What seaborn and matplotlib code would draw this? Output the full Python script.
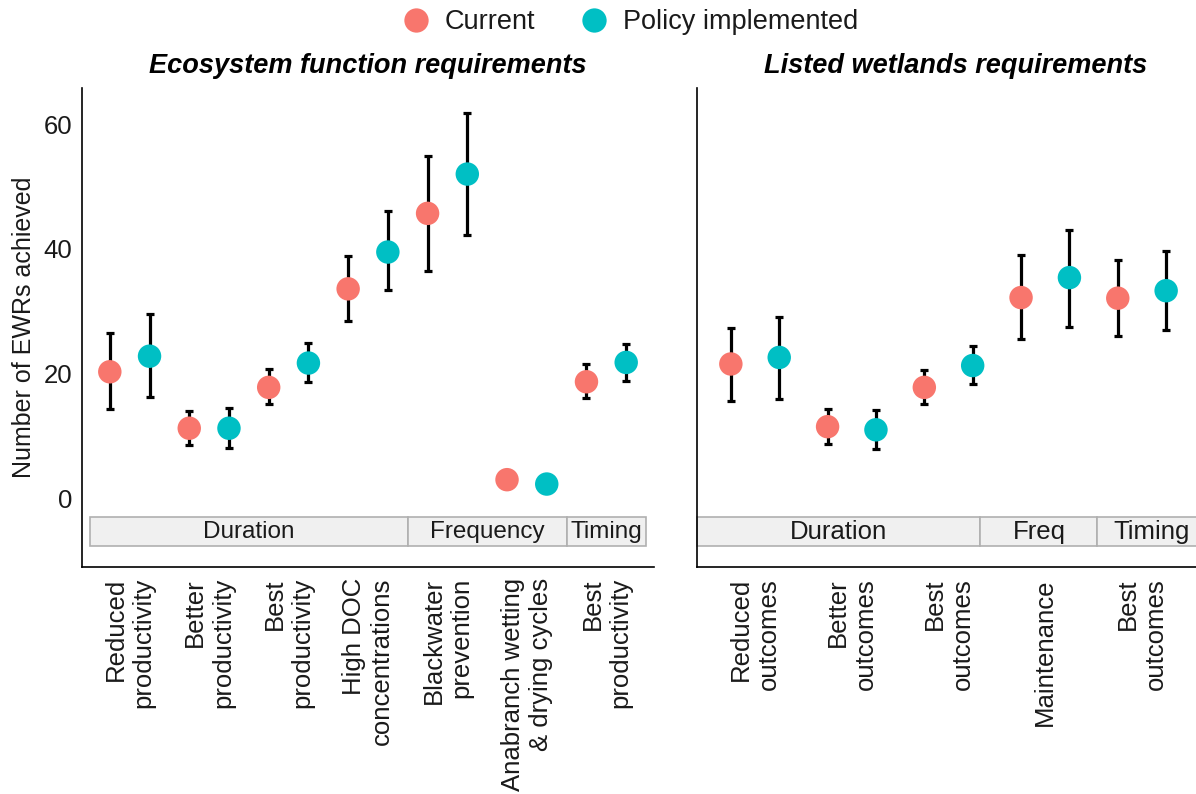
import numpy as np
import pandas as pd
import matplotlib
matplotlib.use("Agg")
import matplotlib.pyplot as plt
from matplotlib.patches import Rectangle
from matplotlib.lines import Line2D
import seaborn as sns

# ---- data -------------------------------------------------------------
scenarios = ["Current", "Policy implemented"]
colors = {"Current": "#F8766D", "Policy implemented": "#00BFC4"}

eco_labels = ["Reduced\nproductivity", "Better\nproductivity", "Best\nproductivity",
              "High DOC\nconcentrations", "Blackwater\nprevention",
              "Anabranch wetting\n& drying cycles", "Best\nproductivity"]
eco_cur_mean = [20.3, 11.25, 17.8, 33.6, 45.7, 3.0, 18.7]
eco_cur_low = [14.3, 8.6, 15.1, 28.4, 36.5, np.nan, 16.1]
eco_cur_high = [26.5, 14.0, 20.7, 38.8, 54.9, np.nan, 21.6]
eco_pol_mean = [22.8, 11.25, 21.7, 39.5, 52.0, 2.3, 21.8]
eco_pol_low = [16.2, 8.1, 18.6, 33.4, 42.2, np.nan, 18.9]
eco_pol_high = [29.5, 14.5, 24.9, 46.0, 61.8, np.nan, 24.8]

wet_labels = ["Reduced\noutcomes", "Better\noutcomes", "Best\noutcomes",
              "Maintenance", "Best\noutcomes"]
wet_cur_mean = [21.55, 11.5, 17.8, 32.2, 32.1]
wet_cur_low = [15.6, 8.7, 15.1, 25.6, 26.1]
wet_cur_high = [27.4, 14.3, 20.6, 39.1, 38.2]
wet_pol_mean = [22.6, 11.0, 21.3, 35.4, 33.3]
wet_pol_low = [15.9, 7.9, 18.3, 27.5, 27.0]
wet_pol_high = [29.1, 14.1, 24.5, 43.1, 39.6]

eco_groups = [("Duration", 0.5, 4.5), ("Frequency", 4.5, 6.5), ("Timing", 6.5, 7.5)]
wet_groups = [("Duration", 0.4, 3.33), ("Freq", 3.33, 4.54), ("Timing", 4.54, 5.65)]

y_ticks = [0, 20, 40, 60]


def build_frame(labels, cm, cl, ch, pm, pl, ph):
    rows = []
    for i in range(len(labels)):
        rows.append(dict(pos=i + 1, scenario="Current", mean=cm[i], low=cl[i], high=ch[i]))
        rows.append(dict(pos=i + 1, scenario="Policy implemented", mean=pm[i], low=pl[i], high=ph[i]))
    df = pd.DataFrame(rows)
    df["x"] = df["pos"] + np.where(df["scenario"] == "Current", -0.25, 0.25)
    return df


eco = build_frame(eco_labels, eco_cur_mean, eco_cur_low, eco_cur_high,
                  eco_pol_mean, eco_pol_low, eco_pol_high)
wet = build_frame(wet_labels, wet_cur_mean, wet_cur_low, wet_cur_high,
                  wet_pol_mean, wet_pol_low, wet_pol_high)

# ---- style ------------------------------------------------------------
sns.set_style("white")
plt.rcParams["font.family"] = ["Liberation Sans", "DejaVu Sans"]
text_col = "#1a1a1a"

W, H = 1196, 794
fig = plt.figure(figsize=(W / 100, H / 100), dpi=100)
ax1 = fig.add_axes([82 / W, 1 - 567 / H, 572 / W, 479 / H])
ax2 = fig.add_axes([697 / W, 1 - 567 / H, 503 / W, 479 / H])


def draw_panel(ax, df, labels, groups, title, title_x, strip_fs, show_ylabels):
    ok = df.dropna(subset=["low", "high"])
    ax.errorbar(ok["x"], ok["mean"],
                yerr=[ok["mean"] - ok["low"], ok["high"] - ok["mean"]],
                fmt="none", ecolor="black", elinewidth=2.3, capsize=3.2,
                capthick=2.3, zorder=2)
    sns.scatterplot(data=df, x="x", y="mean", hue="scenario", palette=colors,
                    hue_order=scenarios, s=285, linewidth=0, legend=False,
                    ax=ax, zorder=3)
    n = len(labels)
    ax.set_xlim(0.4, n + 0.6)
    ax.set_ylim(-11.0, 65.8)
    ax.set_xticks(range(1, n + 1))
    ax.set_xticklabels(labels, rotation=90, ha="center", va="top",
                       fontsize=18.5, color=text_col)
    for lab in ax.get_xticklabels():
        lab.set_multialignment("right")
    ax.set_yticks(y_ticks)
    if show_ylabels:
        ax.set_yticklabels([str(v) for v in y_ticks], fontsize=18.5, color=text_col)
    else:
        ax.set_yticklabels([])
    ax.tick_params(axis="x", length=5, width=1.0, color="#333333", pad=3)
    ax.tick_params(axis="y", length=5, width=1.0, color="#333333", pad=2)
    ax.set_xlabel("")
    ax.set_ylabel("")
    for side in ["top", "right"]:
        ax.spines[side].set_visible(False)
    for side in ["left", "bottom"]:
        ax.spines[side].set_color("black")
        ax.spines[side].set_linewidth(1.2)
    for name, x0, x1 in groups:
        ax.add_patch(Rectangle((x0, -7.7), x1 - x0, 4.65, facecolor="#F0F0F0",
                               edgecolor="#B0B0B0", linewidth=1.2, clip_on=False,
                               zorder=1))
        ax.text((x0 + x1) / 2, -5.35, name, ha="center", va="center",
                fontsize=strip_fs, color=text_col, zorder=4, clip_on=False)
    ax.set_title(title, fontsize=19.5, fontweight="bold", fontstyle="italic",
                 pad=11, x=title_x, color="black")


draw_panel(ax1, eco, eco_labels, eco_groups, "Ecosystem function requirements",
           0.5, 17.5, True)
draw_panel(ax2, wet, wet_labels, wet_groups, "Listed wetlands requirements",
           0.514, 18.5, False)

ax1.set_ylabel("Number of EWRs achieved", fontsize=18, color=text_col)
ax1.yaxis.set_label_coords(-0.08, 0.5)

handles = [Line2D([], [], marker="o", linestyle="", markersize=17.5,
                  markerfacecolor=colors[s], markeredgewidth=0) for s in scenarios]
fig.legend(handles, scenarios, loc="center", bbox_to_anchor=(0.527, 1 - 22 / H),
           ncol=2, frameon=False, fontsize=19.5, handlelength=1.0,
           handletextpad=0.57, columnspacing=1.65, labelcolor=text_col)

fig.savefig("out.png", dpi=100, facecolor="white")
